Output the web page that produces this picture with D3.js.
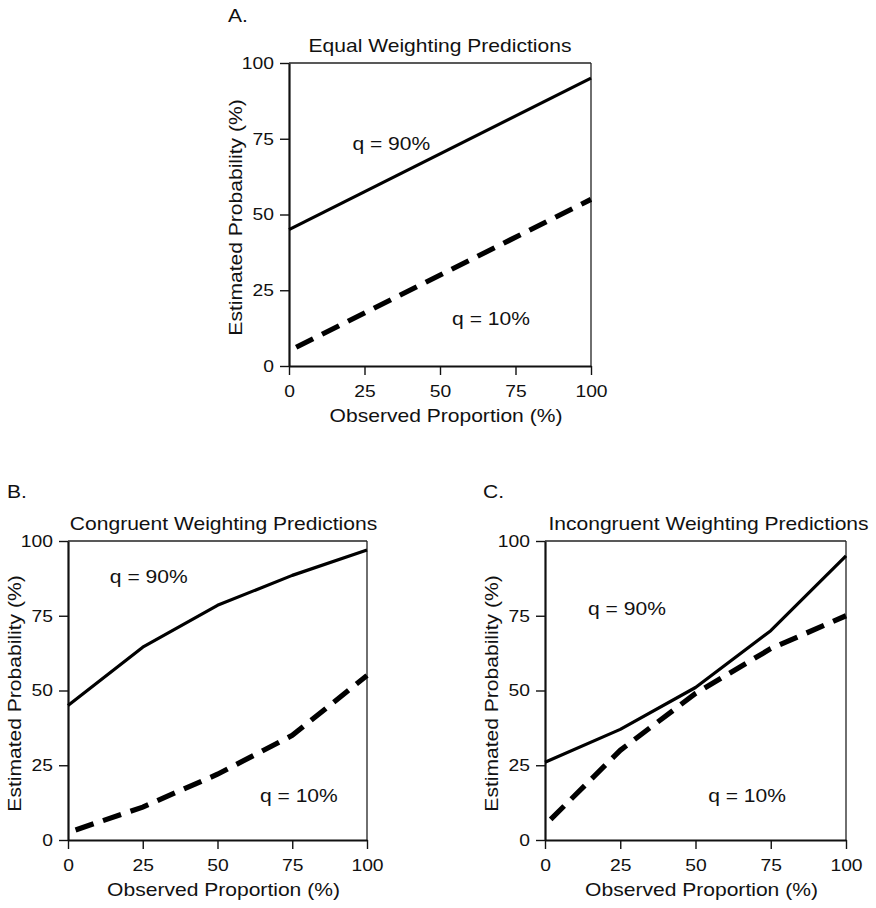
<!DOCTYPE html>
<html>
<head>
<meta charset="utf-8">
<script src="https://cdn.jsdelivr.net/npm/d3@7.9.0/dist/d3.min.js"></script>
<style>
  body { margin: 0; background: #fff; }
  svg { display: block; font-family: "Liberation Sans", Arial, sans-serif; }
  text { fill: #111; }
</style>
</head>
<body>
<svg id="chart" width="876" height="908"></svg>
<script>
// ---- data ----
const tickValues = [0, 25, 50, 75, 100];

const equalX = [0, 100];
const equalHigh = [45, 95];   // q = 90%
const equalLow = [5, 55];     // q = 10%

const weightX = [0, 25, 50, 75, 100];
const congruentHigh = [45, 64.5, 78.5, 88.5, 97];
const congruentLow = [2.5, 11, 22, 35, 55];
const incongruentHigh = [26, 37, 51, 70, 95];
const incongruentLow = [5, 30, 49, 64, 75];

const panelLetters = ['A.', 'B.', 'C.'];
const panelTitles = ['Equal Weighting Predictions', 'Congruent Weighting Predictions', 'Incongruent Weighting Predictions'];
const highLabel = 'q = 90%';
const lowLabel = 'q = 10%';
const xTitle = 'Observed Proportion (%)';
const yTitle = 'Estimated Probability (%)';

// ---- layout ----
const SX = 1.17; // the figure's type is wider than Liberation Sans
const panels = [
  { left: 289, top: 63, w: 302, h: 303, xs: equalX, hi: equalHigh, lo: equalLow,
    letter: [228, 22], titleDx: 0, hiAt: [21, 71.3], loAt: [54, 13.5] },
  { left: 68, top: 541, w: 299, h: 299, xs: weightX, hi: congruentHigh, lo: congruentLow,
    letter: [7, 498], titleDx: 6, hiAt: [14, 86], loAt: [64.2, 12.7] },
  { left: 545, top: 541, w: 301, h: 299, xs: weightX, hi: incongruentHigh, lo: incongruentLow,
    letter: [483, 498], titleDx: 13, hiAt: [14.3, 75.3], loAt: [54.2, 12.7] }
];

const svg = d3.select('#chart');

function stretchedText(parent, x, y, str, size, anchor, rotate) {
  const g = parent.append('g')
    .attr('transform', `translate(${x},${y})` + (rotate ? ` rotate(${rotate})` : '') + ` scale(${SX},1)`);
  g.append('text')
    .attr('text-anchor', anchor || 'start')
    .attr('font-size', size)
    .text(str);
  return g;
}

panels.forEach((p, i) => {
  const x = d3.scaleLinear().domain([0, 100]).range([0, p.w]);
  const y = d3.scaleLinear().domain([0, 100]).range([p.h, 0]);

  const g = svg.append('g').attr('transform', `translate(${p.left},${p.top})`);

  // panel letter & title
  stretchedText(svg, p.letter[0], p.letter[1], panelLetters[i], 18, 'start');
  stretchedText(g, p.w / 2 + p.titleDx, -11, panelTitles[i], 18, 'middle');

  // thin top / right frame
  g.append('line').attr('x1', 0).attr('x2', p.w).attr('y1', 0).attr('y2', 0)
    .attr('stroke', '#222').attr('stroke-width', 1.3);
  g.append('line').attr('x1', p.w).attr('x2', p.w).attr('y1', 0).attr('y2', p.h)
    .attr('stroke', '#222').attr('stroke-width', 1.3);

  // axes
  const xAxis = g.append('g').attr('transform', `translate(0,${p.h})`)
    .call(d3.axisBottom(x).tickValues(tickValues).tickSize(9).tickSizeOuter(0).tickPadding(10));
  const yAxis = g.append('g')
    .call(d3.axisLeft(y).tickValues(tickValues).tickSize(9).tickSizeOuter(0).tickPadding(6));

  [xAxis, yAxis].forEach(a => {
    a.select('.domain').attr('stroke', '#111').attr('stroke-width', 2.2);
    a.selectAll('.tick line').attr('stroke', '#111').attr('stroke-width', 1.4);
    a.selectAll('.tick text').attr('font-size', 16.5).attr('font-family', null).attr('fill', '#111');
  });
  xAxis.selectAll('.tick text').attr('transform', `scale(${SX},1)`);
  yAxis.selectAll('.tick text').attr('x', 0).attr('transform', `translate(-15,0) scale(${SX},1)`);

  // axis titles
  stretchedText(g, p.w / 2 + 6, p.h + 56, xTitle, 18, 'middle');
  stretchedText(g, -47, p.h / 2 + 3, yTitle, 18, 'middle', -90);

  // lines
  const line = d3.line().x(d => x(d[0])).y(d => y(d[1]));
  g.append('path')
    .datum(d3.zip(p.xs, p.hi))
    .attr('d', line)
    .attr('fill', 'none').attr('stroke', '#000').attr('stroke-width', 3.2)
    .attr('stroke-linejoin', 'round');
  g.append('path')
    .datum(d3.zip(p.xs, p.lo))
    .attr('d', line)
    .attr('fill', 'none').attr('stroke', '#000').attr('stroke-width', 5.2)
    .attr('stroke-dasharray', '19,10').attr('stroke-dashoffset', 21);

  // series labels
  stretchedText(g, x(p.hiAt[0]), y(p.hiAt[1]), highLabel, 18, 'start');
  stretchedText(g, x(p.loAt[0]), y(p.loAt[1]), lowLabel, 18, 'start');
});
</script>
</body>
</html>
